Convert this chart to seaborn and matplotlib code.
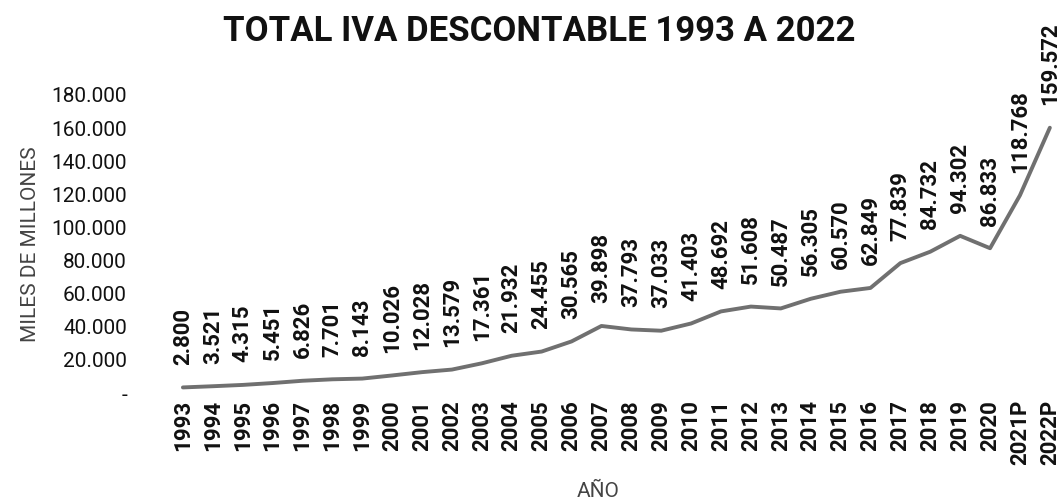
import matplotlib
matplotlib.use("Agg")
import matplotlib.pyplot as plt
import seaborn as sns
import pandas as pd
from matplotlib.ticker import FuncFormatter

# =========================
# DATA
# =========================
anios = ["1993", "1994", "1995", "1996", "1997", "1998", "1999", "2000",
         "2001", "2002", "2003", "2004", "2005", "2006", "2007", "2008",
         "2009", "2010", "2011", "2012", "2013", "2014", "2015", "2016",
         "2017", "2018", "2019", "2020", "2021P", "2022P"]
iva = [2800, 3521, 4315, 5451, 6826, 7701, 8143, 10026, 12028, 13579,
       17361, 21932, 24455, 30565, 39898, 37793, 37033, 41403, 48692, 51608,
       50487, 56305, 60570, 62849, 77839, 84732, 94302, 86833, 118768, 159572]

df = pd.DataFrame({"anio": anios, "iva": iva})
df["pos"] = range(len(df))

def miles(v):
    return "{:,.0f}".format(v).replace(",", ".")

# =========================
# CHART
# =========================
sns.set_style("white")
plt.rcParams["font.family"] = ["Roboto", "DejaVu Sans"]

fig = plt.figure(figsize=(10.62, 5.02), dpi=100)
ax = fig.add_axes([0.13, 0.217, 0.867, 0.594])

sns.lineplot(data=df, x="pos", y="iva", ax=ax, color="#707070", linewidth=2.8)

for p, v in zip(df["pos"], df["iva"]):
    ax.annotate(miles(v), (p, v), xytext=(0, 17), textcoords="offset points",
                rotation=90, ha="center", va="bottom", fontsize=16,
                fontweight="bold", color="#111111", annotation_clip=False)

ax.set_xlim(-1.5, 29.3)
ax.set_ylim(0, 180000)
ax.set_xticks(df["pos"])
ax.set_xticklabels(anios, rotation=90, fontsize=16, fontweight="bold", color="#111111")
ax.set_yticks(range(0, 180001, 20000))
ax.yaxis.set_major_formatter(FuncFormatter(lambda v, _: "-" if v == 0 else miles(v)))
ax.tick_params(axis="y", labelsize=15, pad=8, length=0, colors="#111111")
ax.tick_params(axis="x", pad=5, length=0)

for s in ax.spines.values():
    s.set_visible(False)

ax.set_xlabel("AÑO", fontsize=15, color="#444444", labelpad=12)
ax.set_ylabel("MILES DE MILLONES", fontsize=15, color="#444444", labelpad=8)
fig.text(0.508, 0.937, "TOTAL IVA DESCONTABLE 1993 A 2022", ha="center", va="center",
         fontsize=25, fontweight="bold", color="#111111")

plt.savefig("out.png", dpi=100)
